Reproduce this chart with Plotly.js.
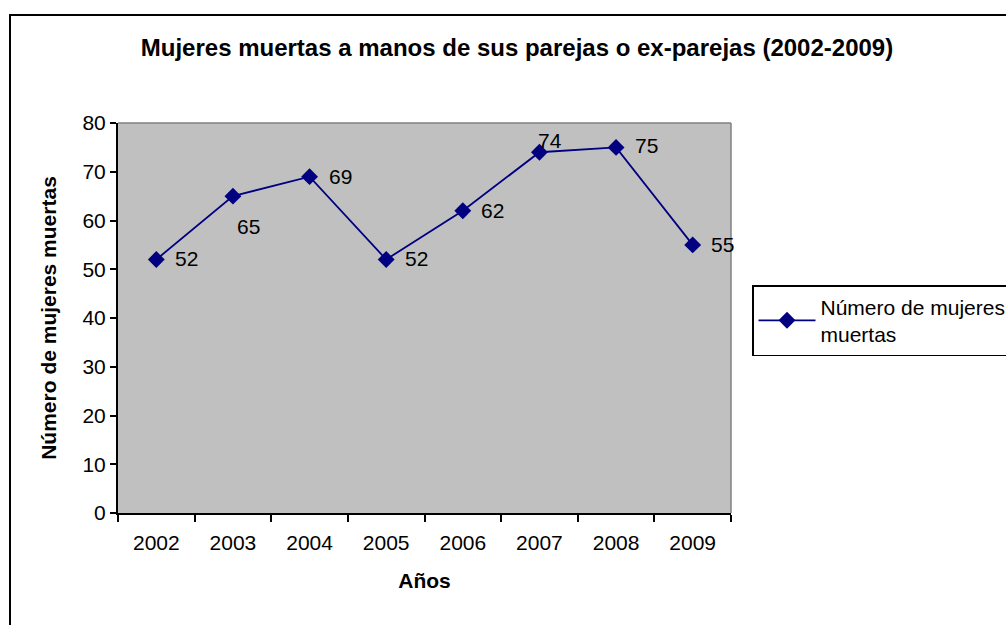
<!DOCTYPE html>
<html>
<head>
<meta charset="utf-8">
<script src="https://cdn.plot.ly/plotly-3.0.1.min.js"></script>
<style>
html,body{margin:0;padding:0;background:#fff;}
#chart{width:1006px;height:625px;}
</style>
</head>
<body>
<div id="chart"></div>
<script>
var years = ['2002','2003','2004','2005','2006','2007','2008','2009'];
var deaths = [52, 65, 69, 52, 62, 74, 75, 55];
var seriesName = 'Número de mujeres<br>muertas';
var yTicks = [0,10,20,30,40,50,60,70,80];

// label offsets (pixels) relative to each point
var labelDx = [17, 2, 17, 17, 16, -3, 17, 16];
var labelDy = [1, -30, 0, 1, 0, 12, 2, 0];

var FONT = '"Liberation Sans", Arial, sans-serif';

var trace = {
  x: years,
  y: deaths,
  type: 'scatter',
  mode: 'lines+markers',
  name: seriesName,
  line: {color: '#000080', width: 1.8},
  marker: {symbol: 'diamond', size: 13, color: '#000080'},
  cliponaxis: false
};

var annotations = years.map(function(yr, i){
  return {
    x: i, y: deaths[i], xref: 'x', yref: 'y',
    text: String(deaths[i]), showarrow: false,
    xanchor: 'left', yanchor: 'middle',
    xshift: labelDx[i], yshift: labelDy[i],
    font: {family: FONT, size: 21, color: '#000'}
  };
});

var L = 118, R = 731, T = 123, B = 513;
var pw = R - L, ph = B - T;
function px(x){ return (x - L) / pw; }
function py(y){ return (B - y) / ph; }

var layout = {
  width: 1006, height: 625,
  margin: {l: L, r: 1006 - R, t: T, b: 625 - B, pad: 0, autoexpand: false},
  paper_bgcolor: '#ffffff',
  plot_bgcolor: '#c0c0c0',
  font: {family: FONT, size: 21, color: '#000'},
  title: {
    text: '<b>Mujeres muertas a manos de sus parejas o ex-parejas (2002-2009)</b>',
    font: {family: FONT, size: 24, color: '#000'},
    x: px(517), xref: 'paper', xanchor: 'center',
    y: 1 - 48/625, yref: 'container', yanchor: 'middle'
  },
  xaxis: {
    type: 'category',
    range: [-0.5, 7.5],
    tickson: 'boundaries',
    ticks: 'outside', ticklen: 7, tickwidth: 2, tickcolor: '#000',
    showline: true, linecolor: '#000', linewidth: 2,
    showgrid: false, zeroline: false,
    tickfont: {family: FONT, size: 21, color: '#000'},
    ticklabelstandoff: 10,
    title: {text: '<b>Años</b>', font: {family: FONT, size: 21, color: '#000'}, standoff: 20},
    automargin: false,
    fixedrange: true
  },
  yaxis: {
    range: [0, 80],
    tickvals: yTicks,
    ticks: 'outside', ticklen: 6, tickwidth: 2, tickcolor: '#000',
    showline: true, linecolor: '#000', linewidth: 2,
    showgrid: false, zeroline: false,
    tickfont: {family: FONT, size: 21, color: '#000'},
    title: {text: '<b>Número de mujeres muertas</b>', font: {family: FONT, size: 21, color: '#000'}, standoff: 20},
    automargin: false,
    fixedrange: true
  },
  showlegend: true,
  legend: {
    x: px(752), y: py(285), xanchor: 'left', yanchor: 'top',
    xref: 'paper', yref: 'paper',
    bgcolor: '#ffffff', bordercolor: '#000', borderwidth: 1.5,
    font: {family: FONT, size: 21, color: '#000'},
    itemwidth: 57
  },
  shapes: [
    {type: 'line', xref: 'paper', yref: 'paper', x0: 0, x1: 1, y0: 1, y1: 1, line: {color: '#808080', width: 1.5}},
    {type: 'line', xref: 'paper', yref: 'paper', x0: 1, x1: 1, y0: 0, y1: 1, line: {color: '#808080', width: 1.5}},
    {type: 'rect', xref: 'paper', yref: 'paper', x0: px(10), x1: px(1012), y0: py(15), y1: py(632),
     line: {color: '#000', width: 2}, fillcolor: 'rgba(0,0,0,0)', layer: 'below'}
  ],
  annotations: annotations
};

Plotly.newPlot('chart', [trace], layout, {displayModeBar: false, staticPlot: true});
</script>
</body>
</html>
